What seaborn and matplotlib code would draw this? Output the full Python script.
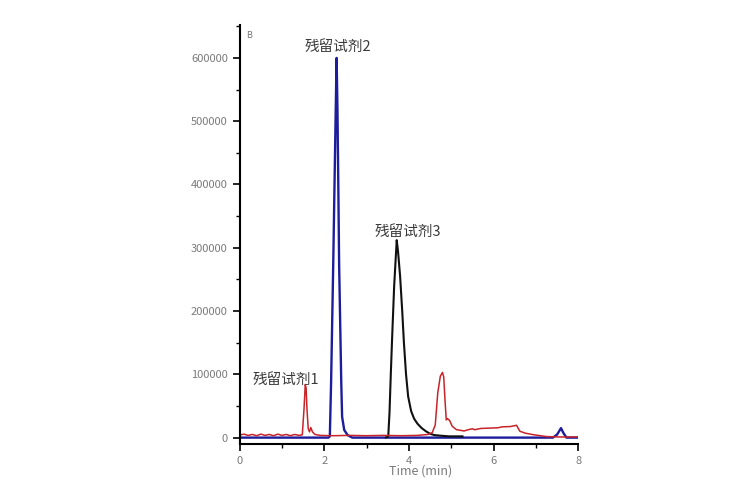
import matplotlib
matplotlib.use("Agg")
import matplotlib.pyplot as plt
import seaborn as sns
import pandas as pd
from matplotlib.ticker import MultipleLocator

# ---- data ----
red_t = [0.0, 0.1, 0.2, 0.3, 0.4, 0.5, 0.6, 0.7, 0.8, 0.9, 1.0, 1.1, 1.2, 1.3, 1.4, 1.48,
         1.52, 1.55, 1.57, 1.59, 1.62, 1.65, 1.68, 1.72, 1.78, 1.9, 2.2, 2.6, 3.0, 3.4,
         3.8, 4.2, 4.45, 4.55, 4.62, 4.68, 4.74, 4.79, 4.82, 4.85, 4.88, 4.91, 4.96, 5.02,
         5.12, 5.3, 5.4, 5.5, 5.55, 5.7, 5.9, 6.1, 6.2, 6.4, 6.54, 6.62, 6.75, 6.93, 7.25,
         7.6, 8.0]
red_v = [4000, 5500, 3500, 5000, 3000, 5500, 3500, 5000, 3000, 5500, 3500, 5000, 3000,
         5000, 3500, 4500, 45000, 84000, 78000, 45000, 14000, 9000, 16000, 9000, 5000,
         3500, 3000, 3500, 3000, 3500, 3000, 3500, 5000, 8000, 20000, 71000, 97000,
         103000, 96000, 60000, 28000, 30000, 27000, 18000, 12600, 10500, 12500, 14000,
         12500, 14500, 15000, 15500, 17000, 17500, 19500, 10000, 7000, 4700, 1600, 1000,
         1000]

blue_t = [0.0, 2.1, 2.13, 2.16, 2.21, 2.26, 2.29, 2.31, 2.33, 2.35, 2.40, 2.42, 2.47,
          2.55, 2.66, 3.0, 7.4, 7.5, 7.59, 7.65, 7.72, 8.0]
blue_v = [0, 0, 2000, 87000, 273000, 480000, 600000, 520000, 400000, 273000, 87000,
          33000, 12000, 4000, 0, 0, 0, 5000, 15000, 7000, 0, 0]

black_t = [3.45, 3.51, 3.54, 3.57, 3.60, 3.65, 3.71, 3.74, 3.79, 3.84, 3.88, 3.93, 3.98,
           4.05, 4.12, 4.2, 4.3, 4.4, 4.5, 4.6, 4.75, 4.95, 5.27]
black_v = [0, 2000, 40000, 100000, 155000, 240000, 312000, 295000, 255000, 200000,
           150000, 100000, 65000, 42000, 30000, 22000, 15000, 10000, 6000, 4000, 3000,
           2000, 2000]

labels = ["残留试剂1", "残留试剂2", "残留试剂3"]
label_t = [1.10, 2.31, 3.96]
label_v = [91500, 617000, 325000]

x_ticks = [0, 2, 4, 6, 8]
y_ticks = [0, 100000, 200000, 300000, 400000, 500000, 600000]

# ---- plotting ----
sns.set_theme(style="ticks")
plt.rcParams["font.family"] = ["Noto Sans CJK SC", "DejaVu Sans"]

fig = plt.figure(figsize=(7.56, 4.90), dpi=100)
ax = fig.add_axes([0.317, 0.094, 0.448, 0.855])

df_black = pd.DataFrame({"t": black_t, "v": black_v})
df_red = pd.DataFrame({"t": red_t, "v": red_v})
df_blue = pd.DataFrame({"t": blue_t, "v": blue_v})

sns.lineplot(data=df_blue, x="t", y="v", ax=ax, color="#1c1c9c", lw=1.7, sort=False)
sns.lineplot(data=df_black, x="t", y="v", ax=ax, color="#111111", lw=1.5, sort=False)
sns.lineplot(data=df_red, x="t", y="v", ax=ax, color="#c8242a", lw=1.1, sort=False)

ax.set_xlim(0, 8)
ax.set_ylim(-10000, 652000)
ax.set_xticks(x_ticks)
ax.set_yticks(y_ticks)
ax.set_xticklabels([str(t) for t in x_ticks])
ax.set_yticklabels([str(t) for t in y_ticks])
ax.xaxis.set_minor_locator(MultipleLocator(1))
ax.yaxis.set_minor_locator(MultipleLocator(50000))
ax.tick_params(axis="both", which="major", direction="out", length=5, width=1.2,
               labelsize=8, labelcolor="#7a7a7a", color="black")
ax.tick_params(axis="both", which="minor", direction="out", length=3, width=1.0,
               color="black")
for s in ["left", "bottom"]:
    ax.spines[s].set_linewidth(1.5)
    ax.spines[s].set_color("black")
sns.despine(ax=ax)

ax.set_xlabel("Time (min)", fontsize=9, color="#7a7a7a")
ax.xaxis.set_label_coords(0.535, -0.05)
ax.set_ylabel("")

for lab, t, v in zip(labels, label_t, label_v):
    ax.text(t, v, lab, fontsize=10.5, color="#3a3a3a", ha="center", va="center")

ax.text(0.02, 0.985, "B", transform=ax.transAxes, fontsize=6.5, color="#777777",
        ha="left", va="top")

fig.savefig("out.png", dpi=100)
